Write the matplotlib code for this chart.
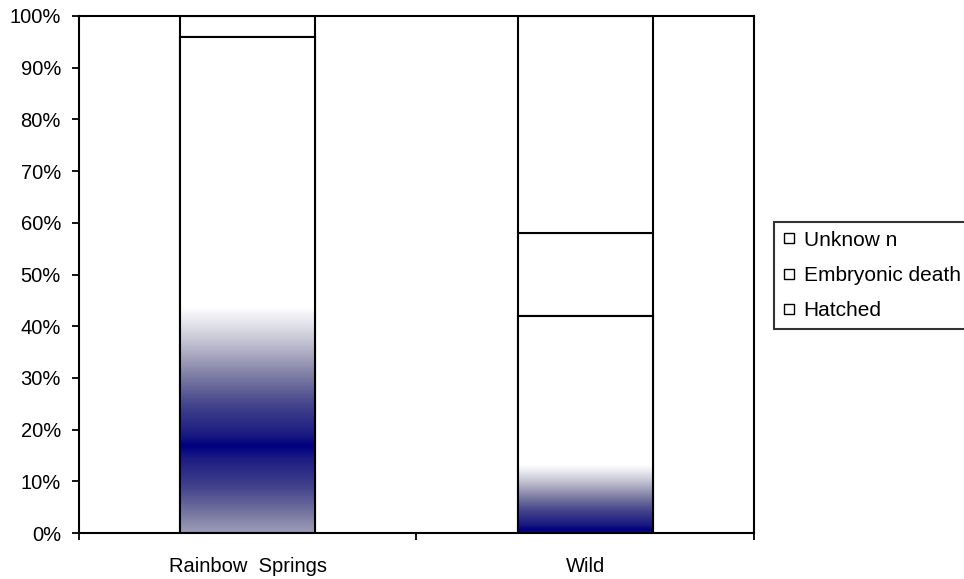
import matplotlib
matplotlib.use("Agg")
import matplotlib.pyplot as plt
import numpy as np
from matplotlib.colors import LinearSegmentedColormap
from matplotlib.lines import Line2D
from matplotlib.ticker import FixedLocator, PercentFormatter

plt.rcParams["font.family"] = ["Liberation Sans", "DejaVu Sans"]

# data (percent of nests)
categories = ["Rainbow  Springs", "Wild"]
hatched = [96.0, 41.9]
embryonic = [0.0, 16.2]
unknown = [4.0, 41.9]
legend_labels = ["Unknow n", "Embryonic death", "Hatched"]

# gradient look of the hatched segment (centre / half width, in % units)
grad_center = [16.7, 0.6]
grad_half = [27.0, 12.5]
grad_cmap = LinearSegmentedColormap.from_list(
    "navyfade",
    [(0.0, "#000080"), (0.08, "#1a1a82"), (0.3, "#44448c"), (0.5, "#7c7ca3"),
     (0.75, "#c3c3d3"), (0.9, "#e8e8ee"), (1.0, "#ffffff")])


def gradient_image(h, c, hw, n=400):
    y = np.linspace(0, h, n)
    w = np.clip(np.abs(y - c) / hw, 0, 1)
    return w[:, None]


def main():
    fig = plt.figure(figsize=(9.64, 5.79), dpi=100)
    ax = fig.add_axes([0.082, 0.0794, 0.7, 0.893])

    x = np.arange(len(categories))
    width = 0.4
    lw = 1.5
    bottoms = np.zeros(len(categories))
    for vals in (hatched, embryonic, unknown):
        bars = ax.bar(x, vals, width, bottom=bottoms, color="white",
                      edgecolor="black", linewidth=lw, zorder=2)
        if vals is hatched:
            for i, b in enumerate(bars):
                img = gradient_image(vals[i], grad_center[i], grad_half[i])
                x0 = b.get_x()
                im = ax.imshow(img, extent=[x0, x0 + width, 0, vals[i]],
                               origin="lower", aspect="auto", zorder=2.5,
                               cmap=grad_cmap, vmin=0, vmax=1,
                               interpolation="bilinear")
                im.set_clip_path(b)
                # outline back on top of the gradient
                ax.bar(x[i], vals[i], width, bottom=0, color="none",
                       edgecolor="black", linewidth=lw, zorder=3)
        bottoms += np.array(vals)

    ax.set_xlim(-0.5, len(categories) - 0.5)
    ax.set_ylim(0, 100)
    ax.set_yticks(np.arange(0, 101, 10))
    ax.yaxis.set_major_formatter(PercentFormatter(decimals=0))
    ax.set_xticks(x)
    ax.set_xticklabels(categories)
    ax.xaxis.set_minor_locator(FixedLocator(np.arange(-0.5, len(categories), 1.0)))
    ax.tick_params(axis="x", which="major", length=0, pad=17, labelsize=14.5)
    ax.tick_params(axis="x", which="minor", length=5, width=1.3, direction="out")
    ax.tick_params(axis="y", length=5, width=1.3, direction="out", pad=8, labelsize=14.5)
    for s in ax.spines.values():
        s.set_linewidth(1.5)
        s.set_color("black")

    handles = [Line2D([], [], marker="s", linestyle="none", markersize=7,
                      markerfacecolor="white", markeredgecolor="black",
                      markeredgewidth=1.0) for _ in legend_labels]
    leg = fig.legend(handles, legend_labels, loc="upper left",
                     bbox_to_anchor=(0.803, 0.6166), frameon=True,
                     fancybox=False, fontsize=15, handlelength=0.6,
                     handletextpad=0.4, labelspacing=0.78, borderpad=0.42,
                     borderaxespad=0)
    leg.get_frame().set_edgecolor("black")
    leg.get_frame().set_linewidth(1.5)

    fig.savefig("out.png", dpi=100)


if __name__ == "__main__":
    main()
